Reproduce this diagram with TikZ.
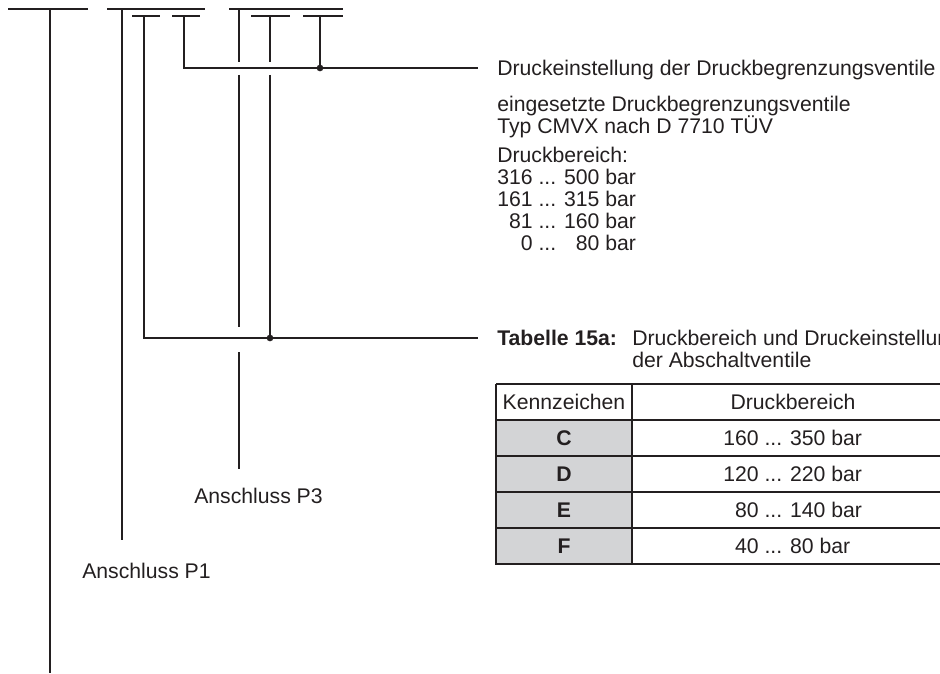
\documentclass[tikz,border=0pt]{standalone}
\usepackage{fontspec}
\setmainfont{Liberation Sans}
\usetikzlibrary{positioning}
\definecolor{inkgray}{HTML}{231F20}
\definecolor{cellgray}{HTML}{D3D4D6}
\def\ddd{...}

\begin{document}
\begin{tikzpicture}[x=0.75pt, y=-0.75pt,
  leader/.style={line width=0.9pt, draw=inkgray},
  txt/.style={anchor=west, inner sep=0pt, text=inkgray, text height=11.4pt, text depth=0pt,
    font=\fontsize{15.9}{19}\selectfont},
  joint/.style={circle, fill=inkgray, inner sep=0pt, minimum size=5pt},
  thinrule/.style={line width=0.8pt, draw=inkgray},
  thickrule/.style={line width=1.7pt, draw=inkgray}]
  \useasboundingbox (0,0) rectangle (940,674);

  % texts on the right
  \node[txt, inner xsep=14.25pt] (setting) at (478,68) {Druckeinstellung der Druckbegrenzungsventile};
  \node[txt] (valves) at (497,104) {eingesetzte Druckbegrenzungsventile};
  \node[txt] (type) at (497,126) {Typ CMVX nach D 7710 TÜV};
  \node[txt] (range) at (497,155) {Druckbereich:};
  \node[txt] (rangeA) at (497,177) {316 \ddd{} 500 bar};
  \node[txt] (rangeB) at (497,199) {161 \ddd{} 315 bar};
  \node[txt] (rangeC) at (497,221) {\phantom{0}81 \ddd{} 160 bar};
  \node[txt] (rangeD) at (497,243) {\phantom{00}0 \ddd{} \phantom{0}80 bar};

  \node[txt, inner xsep=14.25pt] (tabcap) at (478,338) {\bfseries Tabelle 15a:};
  \node[txt] (tabtitle) at (632,338) {Druckbereich und Druckeinstellung};
  \node[txt] (tabtitleB) at (632,360) {der Abschaltventile};

  % ports
  \node[txt] (portP3) at (194,496) {Anschluss P3};
  \node[txt] (portP1) at (82,571) {Anschluss P1};
  \coordinate (endP1) at (122,540);
  \coordinate (endP3) at (239,469);
  \coordinate (endT) at (50,673);

  \node[joint] (jset) at (320,68) {};
  \node[joint] (jtab) at (270,338) {};

  % type code bars
  \foreach \xa/\xb/\yy in {8/88/9, 107/205/9, 229/343/9, 132/160/16, 172/200/16, 251/290/16, 303/343/16}
    \draw[leader] (\xa,\yy) -- (\xb,\yy);

  \draw[leader] (50,9) -- (endT);
  \draw[leader] (122,9) -- (endP1);
  \draw[leader] (144,16) |- (tabcap.west);
  \draw[leader] (184,16) |- (setting.west);
  \draw[leader] (320,16) -- (jset.center);
  \draw[leader] (270,16) -- (270,62);
  \draw[leader] (270,75) -- (jtab.center);
  \draw[leader] (239,9) -- (239,62);
  \draw[leader] (239,75) -- (239,327);
  \draw[leader] (239,352) -- (endP3);

  % table
  \fill[cellgray] (496,420) rectangle (632,564);
  \foreach \yy in {384, 420, 456, 492, 528, 564}
    \draw[thinrule] (496,\yy) -- (940,\yy);
  \draw[thinrule] (496,384) -- (496,420);
  \draw[thinrule] (632,384) -- (632,420);
  \foreach \yy in {456, 492, 528}
    \draw[line width=1.2pt, draw=inkgray] (496,\yy) -- (632,\yy);
  \draw[thickrule] (496,420) rectangle (632,564);

  \node[txt, anchor=center] (headK) at (564,402) {Kennzeichen};
  \node[txt, anchor=center] (headD) at (793,402) {Druckbereich};
  \foreach \yy/\kk/\vv [count=\i] in {438/C/{160 \ddd{} 350 bar}, 474/D/{120 \ddd{} 220 bar},
      510/E/{\phantom{0}80 \ddd{} 140 bar}, 546/F/{\phantom{0}40 \ddd{} 80 bar}} {
    \node[txt, anchor=center] (key\i) at (564,\yy) {\bfseries \kk};
    \node[txt] (val\i) at (723,\yy) {\vv};
  }
\end{tikzpicture}
\end{document}
